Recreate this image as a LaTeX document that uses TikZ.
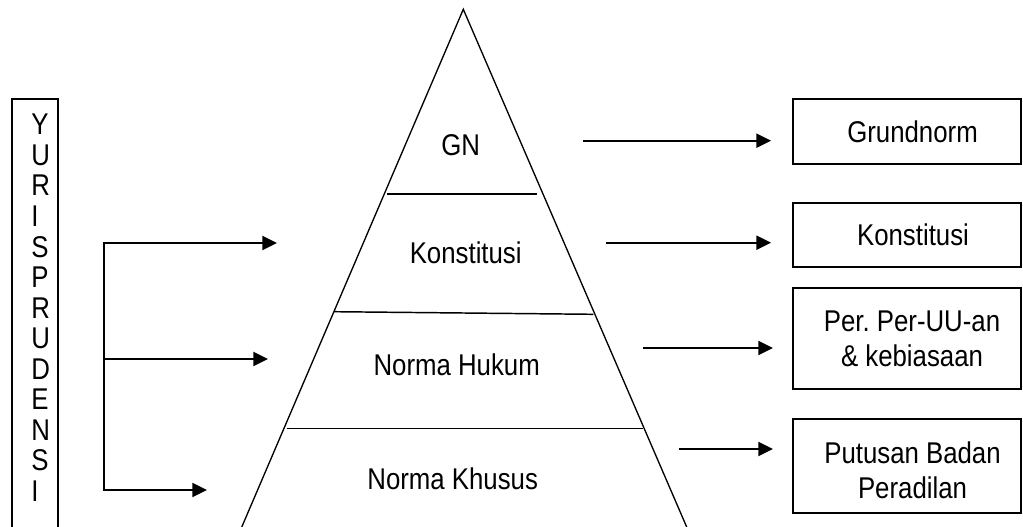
\documentclass[tikz,border=0pt]{standalone}
\usepackage{fontspec}
\setmainfont{Liberation Sans}[FakeStretch=0.86]
\usetikzlibrary{arrows.meta}

\begin{document}
\frenchspacing
\begin{tikzpicture}[x=0.75pt,y=-0.75pt,
  lbl/.style={inner sep=0pt, align=center, font=\fontsize{22.5pt}{26.25pt}\selectfont},
  tbox/.style={draw, line width=1.4pt, inner sep=0pt, outer sep=0pt, minimum width=171pt},
  tri/.style={line width=1pt, line join=miter},
  layer/.style={line width=1.1pt},
  arr/.style={line width=1.5pt, line join=miter, -{Triangle[length=11pt, width=10.5pt]}}]

\useasboundingbox (0,0) rectangle (1023,527);
\clip (0,0) rectangle (1023,527);
\fill[white] (0,0) rectangle (1023,527);

% pyramid outline and its layers
\coordinate (apex) at (463.3,9.3);
\coordinate (baseL) at (236.2,540);
\coordinate (baseR) at (692.3,540);
\draw[tri] (baseL) -- (apex) -- (baseR);
\draw[layer] (387,194) -- (536.7,194);
\draw[layer] (334,311.7) -- (593.3,314.3);
\draw[layer] (286.7,428.3) -- (643.3,428.3);

\node[lbl] (gn)  at (460.7,145)   {GN};
\node[lbl] (kon) at (465.7,253)   {Konstitusi};
\node[lbl] (nh)  at (456.7,364.3) {Norma Hukum};
\node[lbl] (nk)  at (452.7,478.3) {Norma Khusus};

% boxes on the right
\node[tbox, minimum height=48.75pt] (b1) at (907,131.5) {};
\node[tbox, minimum height=48pt]    (b2) at (907,235)   {};
\node[tbox, minimum height=75.75pt] (b3) at (907,338.5) {};
\node[tbox, minimum height=70.5pt]  (b4) at (907,466)   {};

\node[lbl] (t1) at (912.5,131.5) {Grundnorm};
\node[lbl] (t2) at (913,235)     {Konstitusi};
\node[lbl] (t3) at (912,338.5)   {Per. Per-UU-an\\\& kebiasaan};
\node[lbl] (t4) at (912.5,470)   {Putusan Badan\\Peradilan};

% arrows from the pyramid towards the boxes
\coordinate (r1) at (583,140.7);
\coordinate (r2) at (606,242.7);
\coordinate (r3) at (643,348);
\coordinate (r4) at (679,449);
\draw[arr, shorten >=16.5pt] (r1) -- (r1 -| b1.west);
\draw[arr, shorten >=16.5pt] (r2) -- (r2 -| b2.west);
\draw[arr, shorten >=15pt]   (r3) -- (r3 -| b3.west);
\draw[arr, shorten >=15pt]   (r4) -- (r4 -| b4.west);

% vertical box on the left
\node[draw, line width=1.1pt, inner sep=0pt, minimum width=34.5pt, minimum height=330.75pt] (yur) at (35,319.5) {};
\foreach \c [count=\i] in {Y,U,R,I,S,P,R,U,D,E,N,S,I}
  \node[lbl, anchor=base west] (y\i) at (31,{135+30.5*(\i-1)}) {\c};

% bracket with three arrows into the pyramid
\coordinate (jt) at (104,243);
\coordinate (jm) at (104,359);
\coordinate (jb) at (104,490);
\coordinate (p1) at (277,243);
\coordinate (p2) at (268,359);
\coordinate (p3) at (207,490);
\draw[arr] (jb) -- (jt) -- (p1);
\draw[arr] (jt) -- (jb) -- (p3);
\draw[arr] (jm) -- (p2);

\end{tikzpicture}
\end{document}
